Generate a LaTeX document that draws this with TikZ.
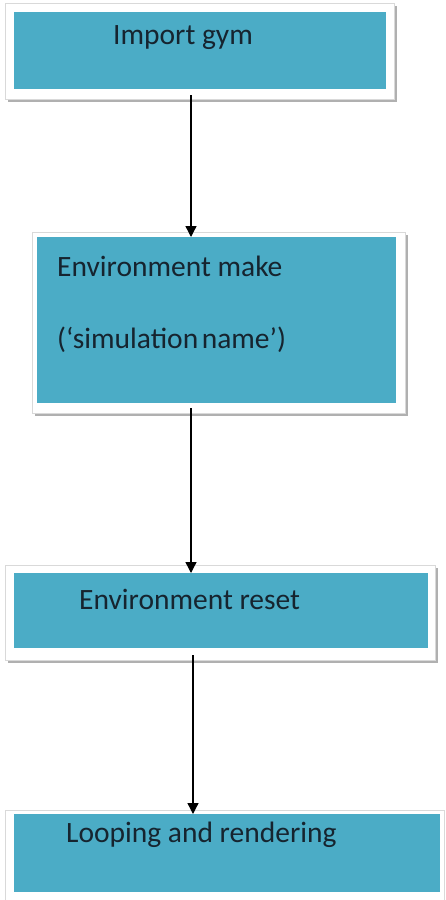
\documentclass[tikz,border=0pt]{standalone}
\usepackage{fontspec}
\setmainfont{Carlito}
\usetikzlibrary{arrows.meta,calc}
\definecolor{boxblue}{HTML}{4BACC6}
\definecolor{txtdark}{HTML}{16242F}
\definecolor{framegray}{HTML}{D9D9D9}
\definecolor{shadowgray}{HTML}{B0B0B0}
\tikzset{
  bluebox/.style={fill=boxblue, draw=none, inner sep=0pt},
  boxtext/.style={text=txtdark, font=\fontsize{29.5}{34}\selectfont, inner sep=0pt, anchor=west},
  flowarrow/.style={draw=black, line width=1.3pt, -{Triangle[length=11pt,width=11pt]}},
  frameshadow/.style={fill=shadowgray},
  whiteframe/.style={fill=white, draw=framegray, line width=0.6pt},
}
\begin{document}
\begin{tikzpicture}[x=1pt,y=-1pt]
\useasboundingbox (0,0) rectangle (446,900);
% frames
\fill[frameshadow] (8,6) rectangle (397,102);
\filldraw[whiteframe] (5,3) rectangle (394,99);
\fill[frameshadow] (35,235) rectangle (408,416);
\filldraw[whiteframe] (32,232) rectangle (405,413);
\fill[frameshadow] (8,568) rectangle (438,663);
\filldraw[whiteframe] (5,565) rectangle (435,660);
\filldraw[whiteframe] (5,810) rectangle (444,903);
% blue boxes
\node[bluebox, minimum width=372pt, minimum height=77pt, anchor=north west] (b1) at (14,12) {};
\node[bluebox, minimum width=359pt, minimum height=166pt, anchor=north west] (b2) at (37,237) {};
\node[bluebox, minimum width=414pt, minimum height=75pt, anchor=north west] (b3) at (14,573) {};
\node[bluebox, minimum width=426pt, minimum height=78pt, anchor=north west] (b4) at (14,814) {};
% texts
\node[boxtext] (t1) at (113,38) {Import gym};
\node[boxtext] (t2a) at (57,266) {Environment make};
\node[boxtext] (t2b) at (57,340) {(‘simulation\hspace{0.12em}name’)};
\node[boxtext] (t3) at (79,599) {Environment reset};
\node[boxtext] (t4) at (66,835) {Looping and rendering};
% arrows
\coordinate (a1s) at (191,95);
\draw[flowarrow] (a1s) -- (a1s |- b2.north);
\coordinate (a2s) at (191,408);
\draw[flowarrow] (a2s) -- (a2s |- b3.north);
\coordinate (a3s) at (193,655);
\draw[flowarrow] (a3s) -- (a3s |- b4.north);
\end{tikzpicture}
\end{document}
